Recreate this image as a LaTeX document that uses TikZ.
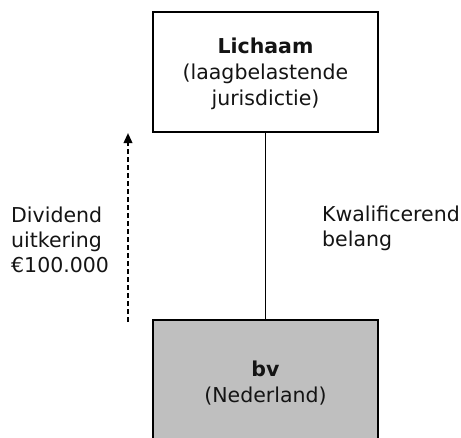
\documentclass[tikz,border=0pt]{standalone}
\usepackage{fontspec}
\setmainfont{DejaVu Sans}
\usetikzlibrary{arrows.meta}
\begin{document}
\begin{tikzpicture}[x=1pt,y=-1pt,
  entity/.style={draw=black, line width=1.4pt, minimum width=225pt, inner sep=0pt},
  txt/.style={font=\fontsize{20.5}{26}\selectfont, align=center, inner sep=0pt, text=black!92},
  ltxt/.style={font=\fontsize{20.5}{25}\selectfont, align=left, inner sep=0pt, anchor=west, text=black!92}]
\clip (0,0) rectangle (461,437);
\fill[white] (0,0) rectangle (461,437);
\node[entity, minimum height=120pt] (top) at (265.5,72) {};
\node[txt] (toptxt) at (265.5,74) {\textbf{Lichaam}\\(laagbelastende\\jurisdictie)};
\node[entity, fill=black!25, minimum height=150pt] (bot) at (265.5,395) {};
\node[txt] (bottxt) at (265.5,383) {\textbf{bv}\\(Nederland)};
\draw[line width=1pt] (top.south) -- (bot.north);
\coordinate (a1) at (128,322);
\coordinate (a2) at (128,133);
\draw[line width=2pt, dash pattern=on 5pt off 3pt, -{Triangle[length=10pt,width=8.5pt]}] (a1) -- (a2);
\node[ltxt] (div) at (11,240) {Dividend\\uitkering\\€100.000};
\node[ltxt] (kw) at (322,228) {Kwalificerend\\belang};
\end{tikzpicture}
\end{document}
